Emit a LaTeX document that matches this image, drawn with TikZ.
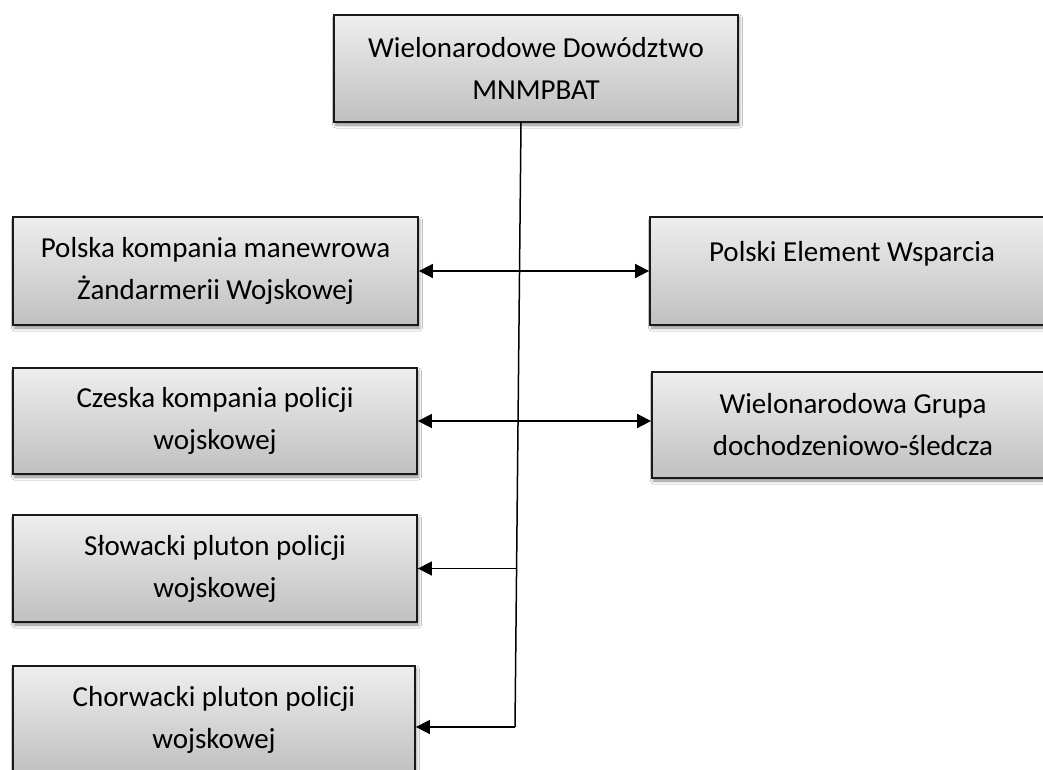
\documentclass[tikz,border=0pt]{standalone}
\usepackage{fontspec}
\setmainfont{Carlito}
\usetikzlibrary{arrows.meta,shadows.blur,calc}
\definecolor{boxtop}{RGB}{238,238,238}
\definecolor{boxbot}{RGB}{192,192,192}
\begin{document}
\begin{tikzpicture}[x=1pt,y=-1pt,
  box/.style={draw=black!90, line width=1.8pt, top color=boxtop, bottom color=boxbot,
    blur shadow={shadow xshift=1.5pt, shadow yshift=-3pt, shadow blur radius=3pt, shadow opacity=45},
    inner sep=0pt, align=center, font=\fontsize{29}{42}\selectfont},
  conn/.style={line width=1.7pt},
  vconn/.style={line width=1.5pt},
  arrowline/.style={-{Triangle[length=14pt,width=14pt]}},
  botharrow/.style={{Triangle[length=14pt,width=14pt]}-{Triangle[length=14pt,width=14pt]}}]
\path[use as bounding box, clip] (0,0) rectangle (1043,770);
\fill[white] (0,0) rectangle (1043,770);

\node[box, minimum width=404pt, minimum height=107pt] (T) at (536,68.5) {Wielonarodowe Dowództwo\\MNMPBAT};
\node[box, minimum width=405pt, minimum height=108pt] (P) at (215.5,271) {Polska kompania manewrowa\\Żandarmerii Wojskowej};
\node[box, minimum width=404pt, minimum height=108pt] (E) at (852,271) {\raisebox{17pt}[\height][\depth]{Polski Element Wsparcia}};
\node[box, minimum width=404pt, minimum height=106pt] (C) at (215,421) {Czeska kompania policji\\wojskowej};
\node[box, minimum width=402pt, minimum height=106pt] (G) at (853,425) {Wielonarodowa Grupa\\dochodzeniowo-śledcza};
\node[box, minimum width=404pt, minimum height=107pt] (S) at (215,568.5) {Słowacki pluton policji\\wojskowej};
\node[box, minimum width=402pt, minimum height=107pt] (H) at (214,719.5) {Chorwacki pluton policji\\wojskowej};

\coordinate (vtop) at (521,122);
\coordinate (vbot) at (515,727);
\coordinate (vS) at (516.6,568.5);

\draw[vconn] (vtop) -- (vbot);
\draw[conn, arrowline] (vbot) -- (vbot -| H.east);
\draw[conn, botharrow] (P.east) -- (E.west);
\draw[conn, botharrow] (C.east) -- (C.east -| G.west);
\draw[conn, arrowline] (vS) -- (S.east);
\end{tikzpicture}
\end{document}
